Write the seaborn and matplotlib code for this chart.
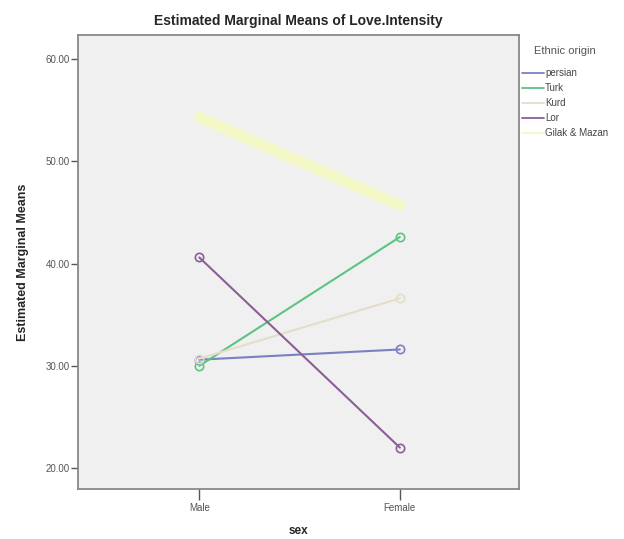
import matplotlib
matplotlib.use("Agg")
import matplotlib.pyplot as plt
from matplotlib.lines import Line2D
import seaborn as sns
import pandas as pd

# data
sexes = ["Male", "Female"]
groups = ["persian", "Turk", "Kurd", "Lor", "Gilak & Mazan"]
persian = [30.6, 31.6]
turk = [30.0, 42.6]
kurd = [30.7, 36.6]
lor = [40.6, 22.0]
gilak = [54.3, 45.7]

colors = ["#7b80c2", "#5cc482", "#e4dec8", "#8b5e98", "#f4f8c6"]
widths = [1.5, 1.5, 1.5, 1.5, 8]

rows = []
for g, vals in zip(groups, [persian, turk, kurd, lor, gilak]):
    for i, s in enumerate(sexes):
        rows.append({"sex": s, "pos": i, "mean": vals[i], "group": g})
df = pd.DataFrame(rows)

sns.set_style("white")
plt.rcParams["font.family"] = ["Liberation Sans", "DejaVu Sans"]

fig = plt.figure(figsize=(6.24, 5.39), dpi=100)
ax = fig.add_axes([0.125, 0.0928, 0.707, 0.842])
ax.set_facecolor("#f0f0f0")

handles = []
for g, c, w in zip(groups, colors, widths):
    sub = df[df["group"] == g]
    sns.lineplot(data=sub, x="pos", y="mean", color=c, lw=w, ax=ax,
                 marker="o", markersize=6, markerfacecolor="none",
                 markeredgecolor=c, markeredgewidth=1.2, legend=False)
    handles.append(Line2D([], [], color=c, lw=1.3, label=g))

ax.set_xlim(-0.605, 1.595)
ax.set_ylim(17.95, 62.35)
ax.set_xticks([0, 1])
ax.set_xticklabels(sexes)
ax.set_yticks([20, 30, 40, 50, 60])
ax.set_yticklabels(["%.2f" % v for v in [20, 30, 40, 50, 60]])
ax.tick_params(axis="both", labelsize=7, labelcolor="#555555", width=1,
               color="#555555", direction="out", bottom=True, left=True)
ax.tick_params(axis="x", length=8, pad=2)
ax.tick_params(axis="y", length=5, pad=1)
for sp in ax.spines.values():
    sp.set_color("#888888")
    sp.set_linewidth(1.3)

ax.set_xlabel("sex", fontsize=8.5, fontweight="bold", labelpad=8.5)
ax.set_ylabel("Estimated Marginal Means", fontsize=9, fontweight="bold", labelpad=12)
ax.set_title("Estimated Marginal Means of Love.Intensity", fontsize=10,
             fontweight="bold", pad=7)

leg = ax.legend(handles=handles, loc="upper left",
                bbox_to_anchor=(1.007, 0.927), frameon=False, fontsize=7,
                handlelength=2.2, handletextpad=0.15,
                borderaxespad=0, labelspacing=0.52, borderpad=0)
for t in leg.get_texts():
    t.set_color("#444444")
fig.text(534 / 624, 1 - 51 / 539, "Ethnic origin", fontsize=8,
         color="#555555", va="center", ha="left")

fig.savefig("out.png", dpi=100)
